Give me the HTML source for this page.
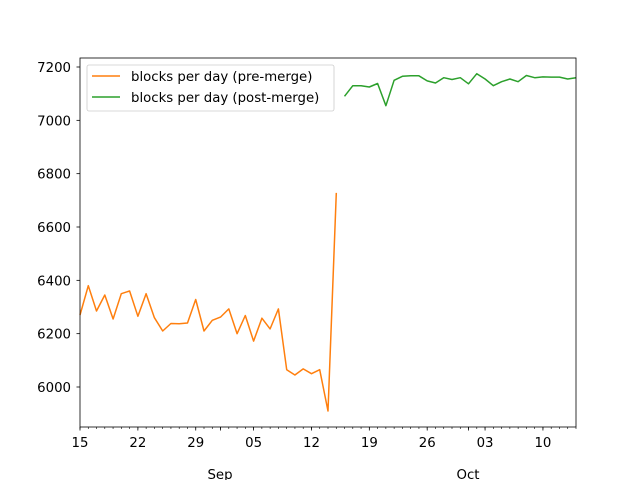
<!DOCTYPE html>
<html><head><meta charset="utf-8"><style>body{margin:0;background:#fff}svg{display:block;font-family:"DejaVu Sans","Liberation Sans",sans-serif}</style></head>
<body>
<svg id="chart" width="640" height="480" xmlns="http://www.w3.org/2000/svg"></svg>
<script>
const preValues=[6270,6380,6285,6345,6255,6350,6360,6265,6350,6260,6210,6238,6237,6240,6328,6210,6250,6262,6293,6200,6268,6172,6258,6218,6293,6065,6045,6068,6050,6065,5910,6728];
const postValues=[7090,7130,7130,7125,7138,7055,7150,7165,7167,7167,7148,7140,7160,7153,7160,7137,7175,7155,7130,7145,7155,7145,7168,7160,7163,7162,7162,7155,7160];
const postStartDay=32;
const xTickDays=[0,7,14,21,28,35,42,49,56];
const xTickLabels=["15","22","29","05","12","19","26","03","10"];
const yTicks=[6000,6200,6400,6600,6800,7000,7200];
const monthLabels=["Sep","Oct"];
const NS="http://www.w3.org/2000/svg";
const svg=document.getElementById('chart');
const L=80,R=576,T=58,B=427,D0=0,D1=60,Y0=5850,Y1=7233.75;
const FS=13.3;
const x=d=>L+(d-D0)/(D1-D0)*(R-L);
const y=v=>B-(v-Y0)/(Y1-Y0)*(B-T);
function el(t,a,p){const e=document.createElementNS(NS,t);for(const k in a)e.setAttribute(k,a[k]);(p||svg).appendChild(e);return e;}
function line(vals,start,color,name){
  const pts=vals.map((v,i)=>x(start+i).toFixed(1)+','+y(v).toFixed(1)).join(' ');
  const p=el('polyline',{points:pts,fill:'none',stroke:color,'stroke-width':1.5,'stroke-linejoin':'round'});
  
  
}
line(preValues,0,'#ff7f0e','pre-merge-line');
line(postValues,postStartDay,'#2ca02c','post-merge-line');
const f=el('rect',{x:L,y:T,width:R-L,height:B-T,fill:'none',stroke:'#000','stroke-width':0.8});


yTicks.forEach(v=>{
  el('line',{x1:L-3.5,x2:L,y1:y(v),y2:y(v),stroke:'#000','stroke-width':0.8});
  const t=el('text',{x:L-9,y:y(v)+5,'text-anchor':'end','font-size':FS},svg);t.textContent=v;
  
  
});
for(let d=D0;d<=D1;d++){el('line',{x1:x(d),x2:x(d),y1:B,y2:B+2,stroke:'#000','stroke-width':0.6});}
[17,47].forEach(d=>el('line',{x1:x(d),x2:x(d),y1:B,y2:B+3.5,stroke:'#000','stroke-width':0.8}));
xTickDays.forEach((d,i)=>{
  el('line',{x1:x(d),x2:x(d),y1:B,y2:B+3.5,stroke:'#000','stroke-width':0.8});
  const t=el('text',{x:x(d),y:B+20,'text-anchor':'middle','font-size':FS});t.textContent=xTickLabels[i];
  
  
});
[[220,monthLabels[0]],[468,monthLabels[1]]].forEach(([px,s])=>{
  const t=el('text',{x:px,y:479,'text-anchor':'middle','font-size':FS});t.textContent=s;
  
  
});
const g=el('g',{});


el('rect',{x:87,y:65,width:247,height:46,rx:2,fill:'#fff','fill-opacity':0.8,stroke:'#ccc','stroke-width':0.8},g);
[['#ff7f0e','blocks per day (pre-merge)',76],['#2ca02c','blocks per day (post-merge)',97]].forEach(([c,s,yy],i)=>{
  el('line',{x1:92,x2:120,y1:yy,y2:yy,stroke:c,'stroke-width':1.5},g);
  const t=el('text',{x:131,y:yy+5,'font-size':FS},g);t.textContent=s;
  
  
});
</script>
</body></html>
